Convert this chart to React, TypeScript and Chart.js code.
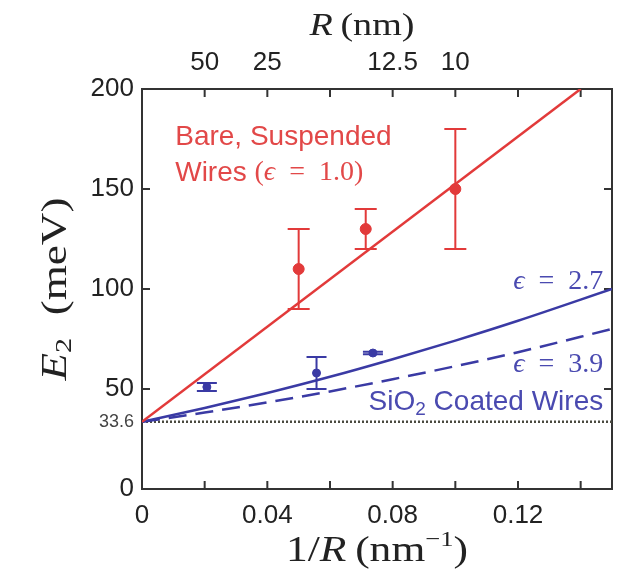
import React, { useEffect, useRef } from 'react';
import { Chart, registerables } from 'chart.js';

Chart.register(...registerables);

// ---------- data ----------
const bareLineX = [0, 0.14];
const bareLineY = [33.6, 200];

const fitX = [0, 0.02, 0.04, 0.06, 0.08, 0.1, 0.12, 0.15];
const eps27Y = [33.6, 40.5, 48.0, 56.1, 64.9, 74.2, 84.1, 100];
const eps39Y = [33.6, 38.2, 43.3, 48.8, 54.9, 61.4, 68.4, 80];

const baselineX = [0, 0.15];
const baselineY = [33.6, 33.6];

const redX = [0.05, 0.0714, 0.1];
const redY = [110, 130, 150];
const redLow = [90, 120, 120];
const redHigh = [130, 140, 180];

const blueX = [0.0207, 0.0557, 0.0737];
const blueY = [51, 58, 68];
const blueLow = [49, 50, 67.4];
const blueHigh = [53, 66, 68.6];

const bottomLabelValues = [0, 0.04, 0.08, 0.12];
const bottomLabels = ['0', '0.04', '0.08', '0.12'];
const xMinorTicks = [0.02, 0.04, 0.06, 0.08, 0.1, 0.12, 0.14];
const topLabelValues = [0.02, 0.04, 0.08, 0.1];
const topLabels = ['50', '25', '12.5', '10'];
const yLabelValues = [0, 33.6, 50, 100, 150, 200];
const yLabels = ['0', '33.6', '50', '100', '150', '200'];
const yTickMarks = [50, 100, 150];

// ---------- styles ----------
const RED = '#e23a3a';
const RED_TEXT = '#e24848';
const BLUE = '#3a3aa4';
const BLUE_TEXT = '#4a4ab0';
const AXIS = '#333333';
const SANS = "'Liberation Sans', Arial, sans-serif";
const SERIF = "'Liberation Serif', 'Times New Roman', serif";

type Run = { t: string; font: string; dy?: number };

function drawRuns(
  ctx: CanvasRenderingContext2D,
  runs: Run[],
  x: number,
  y: number,
  align: 'left' | 'center' | 'right',
  color: string,
  rot = 0,
  targetWidth = 0
) {
  ctx.save();
  ctx.translate(x, y);
  if (rot) ctx.rotate(rot);
  let total = 0;
  const widths = runs.map((r) => {
    ctx.font = r.font;
    const w = ctx.measureText(r.t).width;
    total += w;
    return w;
  });
  const sx = targetWidth ? targetWidth / total : 1;
  ctx.scale(sx, 1);
  let cx = align === 'left' ? 0 : align === 'center' ? -total / 2 : -total;
  ctx.fillStyle = color;
  ctx.textBaseline = 'middle';
  ctx.textAlign = 'left';
  runs.forEach((r, i) => {
    ctx.font = r.font;
    ctx.fillText(r.t, cx, r.dy || 0);
    cx += widths[i];
  });
  ctx.restore();
}

function labelFor(v: number, values: number[], labels: string[]) {
  const i = values.findIndex((u) => Math.abs(u - v) < 1e-9);
  return i >= 0 ? labels[i] : '';
}

const decorPlugin = {
  id: 'decor',
  beforeDatasetsDraw(chart: any) {
    const ctx = chart.ctx as CanvasRenderingContext2D;
    const xs = chart.scales.x;
    const ys = chart.scales.y;
    const ca = chart.chartArea;
    ctx.save();
    // error bars
    const drawErr = (X: number[], lo: number[], hi: number[], color: string, cap: number) => {
      ctx.strokeStyle = color;
      ctx.lineWidth = 2;
      X.forEach((xv, i) => {
        const px = xs.getPixelForValue(xv);
        const pl = ys.getPixelForValue(lo[i]);
        const ph = ys.getPixelForValue(hi[i]);
        ctx.beginPath();
        ctx.moveTo(px, pl);
        ctx.lineTo(px, ph);
        ctx.moveTo(px - cap, pl);
        ctx.lineTo(px + cap, pl);
        ctx.moveTo(px - cap, ph);
        ctx.lineTo(px + cap, ph);
        ctx.stroke();
      });
    };
    drawErr(redX, redLow, redHigh, RED, 11);
    drawErr(blueX, blueLow, blueHigh, BLUE, 10);

    // inward tick marks
    ctx.strokeStyle = AXIS;
    ctx.lineWidth = 2;
    const tl = 8;
    ctx.beginPath();
    xMinorTicks.forEach((v) => {
      const px = xs.getPixelForValue(v);
      ctx.moveTo(px, ca.bottom);
      ctx.lineTo(px, ca.bottom - tl);
      ctx.moveTo(px, ca.top);
      ctx.lineTo(px, ca.top + tl);
    });
    yTickMarks.forEach((v) => {
      const py = ys.getPixelForValue(v);
      ctx.moveTo(ca.left, py);
      ctx.lineTo(ca.left + tl, py);
      ctx.moveTo(ca.right, py);
      ctx.lineTo(ca.right - tl, py);
    });
    ctx.stroke();
    ctx.restore();
  },
  afterDraw(chart: any) {
    const ctx = chart.ctx as CanvasRenderingContext2D;
    const xs = chart.scales.x;
    const ys = chart.scales.y;
    const ca = chart.chartArea;
    const X = (v: number) => xs.getPixelForValue(v);
    const Y = (v: number) => ys.getPixelForValue(v);

    // annotations
    drawRuns(ctx, [{ t: 'Bare, Suspended', font: `28px ${SANS}` }], X(0.0106), Y(176), 'left', RED_TEXT);
    drawRuns(
      ctx,
      [
        { t: 'Wires ', font: `28px ${SANS}` },
        { t: '(', font: `28px ${SERIF}` },
        { t: '\u03f5', font: `italic 28px ${SERIF}` },
        { t: '\u2002=\u20021.0)', font: `28px ${SERIF}` },
      ],
      X(0.0106),
      Y(158),
      'left',
      RED_TEXT
    );
    drawRuns(
      ctx,
      [
        { t: '\u03f5', font: `italic 28px ${SERIF}` },
        { t: '\u2002=\u20022.7', font: `28px ${SERIF}` },
      ],
      X(0.1472),
      Y(103.6),
      'right',
      BLUE_TEXT
    );
    drawRuns(
      ctx,
      [
        { t: '\u03f5', font: `italic 28px ${SERIF}` },
        { t: '\u2002=\u20023.9', font: `28px ${SERIF}` },
      ],
      X(0.1472),
      Y(62),
      'right',
      BLUE_TEXT
    );
    drawRuns(
      ctx,
      [
        { t: 'SiO', font: `28px ${SANS}` },
        { t: '2', font: `19px ${SANS}`, dy: 8 },
        { t: ' Coated Wires', font: `28px ${SANS}` },
      ],
      X(0.1472),
      Y(43.6),
      'right',
      BLUE_TEXT
    );

    // axis titles
    const cx = (ca.left + ca.right) / 2;
    drawRuns(
      ctx,
      [
        { t: 'R', font: `italic 32px ${SERIF}` },
        { t: '\u2009(nm)', font: `32px ${SERIF}` },
      ],
      cx - 15,
      27,
      'center',
      '#222',
      0,
      105
    );
    drawRuns(
      ctx,
      [
        { t: '1/', font: `36px ${SERIF}` },
        { t: 'R', font: `italic 36px ${SERIF}` },
        { t: '\u2009(nm', font: `36px ${SERIF}` },
        { t: '\u22121', font: `22px ${SERIF}`, dy: -12 },
        { t: ')', font: `36px ${SERIF}` },
      ],
      cx,
      552,
      'center',
      '#222',
      0,
      182
    );
    drawRuns(
      ctx,
      [
        { t: 'E', font: `italic 36px ${SERIF}` },
        { t: '2', font: `24px ${SERIF}`, dy: 8 },
        { t: '\u2002(meV)', font: `36px ${SERIF}` },
      ],
      57,
      (ca.top + ca.bottom) / 2,
      'center',
      '#222',
      -Math.PI / 2,
      183
    );
  },
};

export default function App() {
  const ref = useRef<HTMLCanvasElement | null>(null);

  useEffect(() => {
    const canvas = ref.current;
    if (!canvas) return;
    const pts = (xa: number[], ya: number[]) => xa.map((x, i) => ({ x, y: ya[i] }));

    const chart = new Chart(canvas, {
      type: 'line',
      data: {
        datasets: [
          {
            label: 'baseline',
            data: pts(baselineX, baselineY),
            borderColor: '#4a4a40',
            borderWidth: 2.5,
            borderDash: [2, 2],
            pointRadius: 0,
            order: 5,
          },
          {
            label: 'eps 3.9',
            data: pts(fitX, eps39Y),
            borderColor: BLUE,
            borderWidth: 2.5,
            borderDash: [18, 9],
            pointRadius: 0,
            cubicInterpolationMode: 'monotone',
            order: 4,
          },
          {
            label: 'eps 2.7',
            data: pts(fitX, eps27Y),
            borderColor: BLUE,
            borderWidth: 2.5,
            pointRadius: 0,
            cubicInterpolationMode: 'monotone',
            order: 3,
          },
          {
            label: 'bare',
            data: pts(bareLineX, bareLineY),
            borderColor: RED,
            borderWidth: 2.5,
            pointRadius: 0,
            order: 2,
          },
          {
            type: 'scatter',
            label: 'bare data',
            data: pts(redX, redY),
            backgroundColor: RED,
            borderColor: RED,
            pointRadius: 5.5,
            showLine: false,
            order: 1,
          },
          {
            type: 'scatter',
            label: 'coated data',
            data: pts(blueX, blueY),
            backgroundColor: BLUE,
            borderColor: BLUE,
            pointRadius: 4,
            showLine: false,
            order: 0,
          },
        ] as any,
      },
      options: {
        animation: false,
        responsive: false,
        devicePixelRatio: 1,
        layout: { padding: { left: 0, right: 7, top: 0, bottom: 0 } },
        plugins: { legend: { display: false }, tooltip: { enabled: false } },
        scales: {
          x: {
            type: 'linear',
            position: 'bottom',
            min: 0,
            max: 0.15,
            afterBuildTicks: (s: any) => {
              s.ticks = bottomLabelValues.map((value) => ({ value }));
            },
            afterFit: (s: any) => {
              s.height = 90;
            },
            ticks: {
              autoSkip: false,
              maxRotation: 0,
              padding: 11,
              color: '#222',
              font: { family: SANS, size: 26 },
              callback: (v: any) => labelFor(Number(v), bottomLabelValues, bottomLabels),
            },
            grid: { display: false, drawTicks: false },
            border: { display: true, color: AXIS, width: 2 },
          },
          x2: {
            type: 'linear',
            position: 'top',
            min: 0,
            max: 0.15,
            afterBuildTicks: (s: any) => {
              s.ticks = topLabelValues.map((value) => ({ value }));
            },
            afterFit: (s: any) => {
              s.height = 89;
            },
            ticks: {
              autoSkip: false,
              maxRotation: 0,
              padding: 11,
              color: '#222',
              font: { family: SANS, size: 26 },
              callback: (v: any) => labelFor(Number(v), topLabelValues, topLabels),
            },
            grid: { display: false, drawTicks: false },
            border: { display: true, color: AXIS, width: 2 },
          },
          y: {
            type: 'linear',
            position: 'left',
            min: 0,
            max: 200,
            afterBuildTicks: (s: any) => {
              s.ticks = yLabelValues.map((value) => ({ value }));
            },
            afterFit: (s: any) => {
              s.width = 142;
            },
            ticks: {
              autoSkip: false,
              padding: 8,
              color: (c: any) => (c.tick && Math.abs(c.tick.value - 33.6) < 1e-6 ? '#444' : '#222'),
              font: (c: any) => ({
                family: SANS,
                size: c.tick && Math.abs(c.tick.value - 33.6) < 1e-6 ? 18 : 26,
              }),
              callback: (v: any) => labelFor(Number(v), yLabelValues, yLabels),
            },
            grid: { display: false, drawTicks: false },
            border: { display: true, color: AXIS, width: 2 },
          },
          y2: {
            type: 'linear',
            position: 'right',
            min: 0,
            max: 200,
            afterFit: (s: any) => {
              s.width = 0;
            },
            ticks: { display: false },
            grid: { display: false, drawTicks: false },
            border: { display: true, color: AXIS, width: 2 },
          },
        },
      } as any,
      plugins: [decorPlugin],
    });
    return () => chart.destroy();
  }, []);

  return (
    <div style={{ position: 'absolute', left: 0, top: 0, width: 619, height: 579, background: '#fff' }}>
      <canvas ref={ref} width={619} height={579} />
    </div>
  );
}
